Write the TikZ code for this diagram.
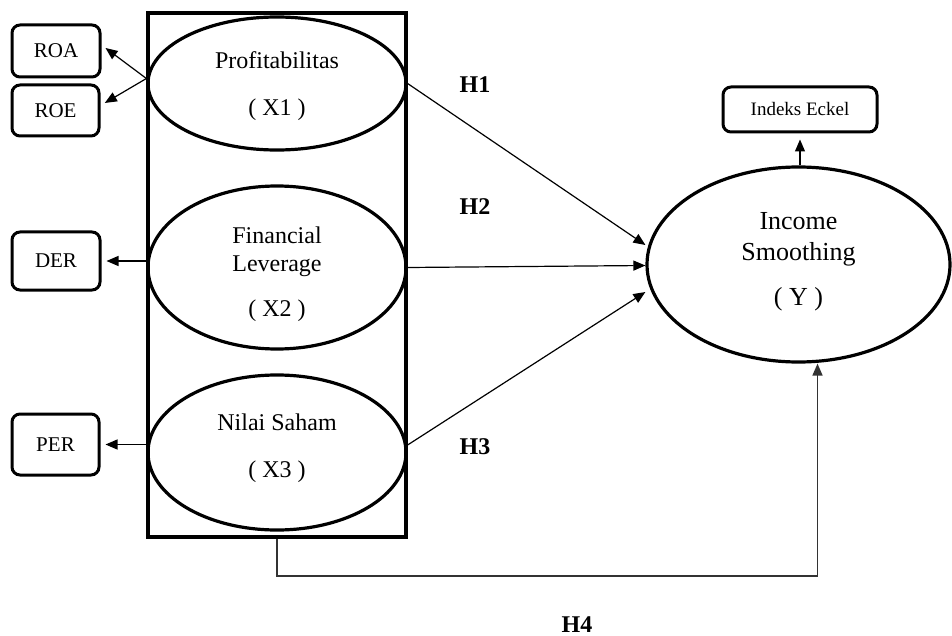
\documentclass[tikz,border=0pt]{standalone}
\usepackage{fontspec}
\setmainfont{Liberation Serif}
\usetikzlibrary{shapes.geometric,arrows.meta}
\tikzset{
	lat/.style={draw,ellipse,line width=1.6pt,inner sep=0pt},
	lattext/.style={align=center,inner sep=0pt,font=\fontsize{12}{14}\selectfont},
	ind/.style={draw,rectangle,rounded corners=4pt,line width=1.5pt,inner sep=0pt,font=\fontsize{10.5}{12}\selectfont},
	arr/.style={-{Triangle[length=6pt,width=5pt]},line width=0.6pt},
	hyp/.style={font=\bfseries\fontsize{12}{14}\selectfont}
}
\begin{document}
\begin{tikzpicture}[x=0.5pt,y=-0.5pt]
		\useasboundingbox (0,0) rectangle (952,636);
		
		\node[draw,line width=2pt,minimum width=129pt,minimum height=262pt,inner sep=0pt] (frame) at (277,275) {};
		\node[lat,minimum width=129pt,minimum height=66.5pt,label={[lattext,yshift=-1.5pt]center:{Profitabilitas\\[9.5pt]( X1 )}}] (x1) at (277,83.5) {};
		\node[lat,minimum width=129pt,minimum height=81.5pt,label={[lattext,yshift=-3.5pt]center:{Financial\\Leverage\\[8.5pt]( X2 )}}] (x2) at (277,267.5) {};
		\node[lat,minimum width=129pt,minimum height=77.5pt,label={[lattext,yshift=2pt]center:{Nilai Saham\\[9.5pt]( X3 )}}] (x3) at (277,452.5) {};
		\node[lat,minimum width=151.5pt,minimum height=97.5pt,label={[lattext,font=\fontsize{13}{15.5}\selectfont,yshift=1.5pt]center:{Income\\Smoothing\\[7pt]( Y )}}] (y) at (798.5,264.5) {};
		
		\node[ind,minimum width=44pt,minimum height=26pt] (roa) at (56,51) {ROA};
		\node[ind,minimum width=43.5pt,minimum height=25.5pt] (roe) at (55.5,110.5) {ROE};
		\node[ind,minimum width=44pt,minimum height=29pt] (der) at (56,261) {DER};
		\node[ind,minimum width=43.5pt,minimum height=30.5pt] (per) at (55.5,444.5) {PER};
		\node[ind,minimum width=77pt,minimum height=22.5pt,font=\fontsize{9.5}{11}\selectfont] (eckel) at (800,109.5) {Indeks Eckel};
		
		\node[hyp] (h1) at (475,85) {H1};
		\node[hyp] (h2) at (475,207) {H2};
		\node[hyp] (h3) at (475,447) {H3};
		\node[hyp] (h4) at (577,625) {H4};
		
		\draw[arr,shorten >=2.5pt] ([yshift=2.5pt]x1.west) -- ([yshift=3pt]roa.east);
		\draw[arr,shorten >=2.5pt] ([yshift=2.5pt]x1.west) -- ([yshift=2.5pt]roe.east);
		\draw[arr,shorten >=2.5pt] (x2.west |- der.east) -- (der.east);
		\draw[arr,shorten >=2.5pt] (x3.west |- per.east) -- (per.east);
		\draw[arr,shorten >=3pt] (eckel.south |- y.north) -- (eckel.south);
		
		\draw[arr] (x1.east) -- ([yshift=9.75pt]y.west);
		\draw[arr] (x2.east) -- ([yshift=-0.5pt]y.west);
		\draw[arr] ([yshift=3.75pt]x3.east) -- ([yshift=-13.75pt]y.west);
		\draw[arr,line width=0.8pt,black!80] (frame.south) -- ++(0,37) -| ([xshift=9.5pt]y.south);
		
	\end{tikzpicture}
\end{document}
